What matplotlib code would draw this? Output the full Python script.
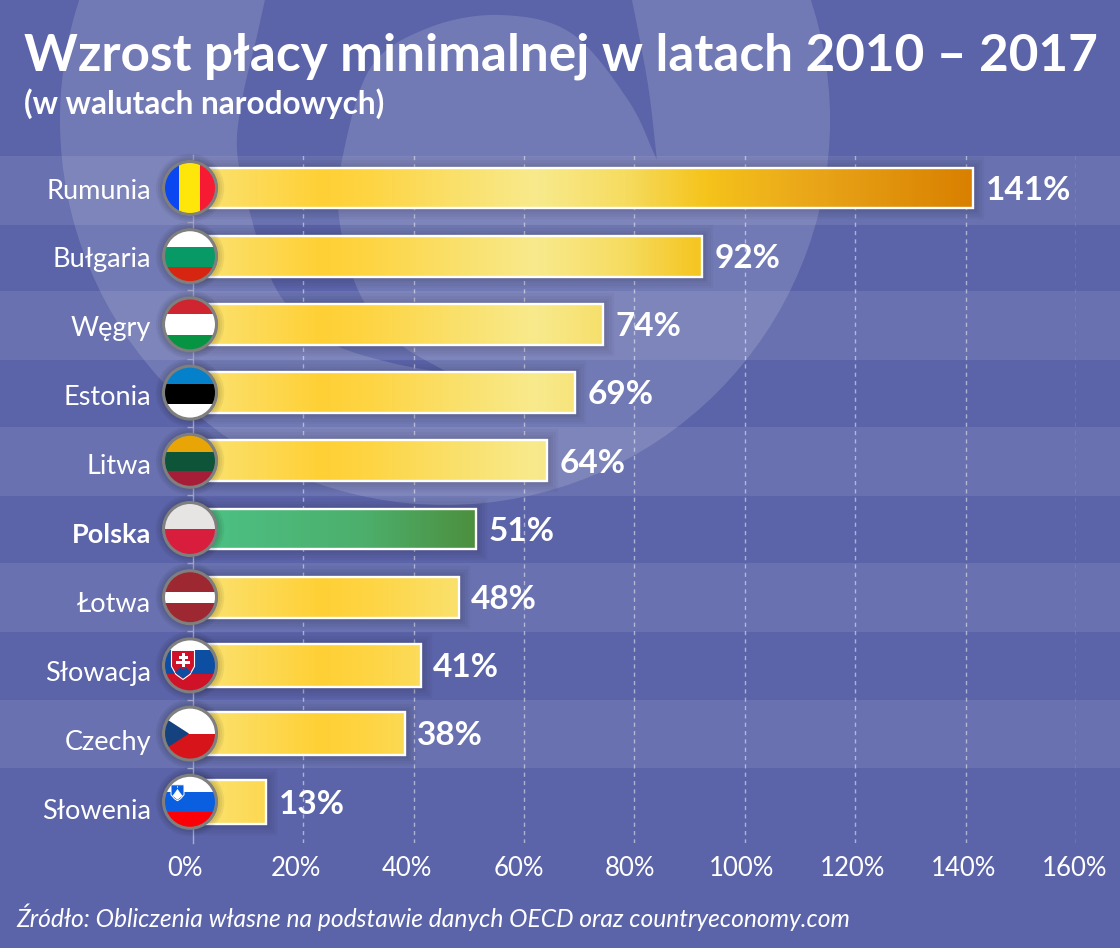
import numpy as np
import matplotlib
matplotlib.use('Agg')
import matplotlib.pyplot as plt
from matplotlib.colors import LinearSegmentedColormap
from matplotlib.patches import Circle, Polygon, Rectangle
from matplotlib.transforms import ScaledTranslation
from matplotlib import font_manager as fm
import matplotlib.patheffects as pe

plt.rcParams['font.family'] = ['Lato', 'Noto Sans', 'DejaVu Sans']

countries = ['Rumunia', 'Bułgaria', 'Węgry', 'Estonia', 'Litwa', 'Polska', 'Łotwa', 'Słowacja', 'Czechy', 'Słowenia']
growth = [141.4, 92.3, 74.4, 69.2, 64.2, 51.3, 48.2, 41.3, 38.4, 13.3]
xticks = [0, 20, 40, 60, 80, 100, 120, 140, 160]
title = 'Wzrost płacy minimalnej w latach 2010 – 2017'
subtitle = '(w walutach narodowych)'
source = 'Źródło: Obliczenia własne na podstawie danych OECD oraz countryeconomy.com'

W, H = 1120, 948
BG = '#5b64a9'
fig = plt.figure(figsize=(W / 100, H / 100), dpi=100, facecolor=BG)

def px_axes(z):
    a = fig.add_axes([0, 0, 1, 1], zorder=z)
    a.set_xlim(0, W)
    a.set_ylim(H, 0)
    a.axis('off')
    return a

def smooth(pts, n=14):
    """Catmull-Rom curve through decorative outline points."""
    p = np.array(pts, float)
    p = np.vstack([2 * p[0] - p[1], p, 2 * p[-1] - p[-2]])
    out = []
    for i in range(1, len(p) - 2):
        for t in np.linspace(0, 1, n, endpoint=False):
            out.append(0.5 * (2 * p[i] + (p[i + 1] - p[i - 1]) * t
                              + (2 * p[i - 1] - 5 * p[i] + 4 * p[i + 1] - p[i + 2]) * t ** 2
                              + (3 * p[i] - p[i - 1] - 3 * p[i + 1] + p[i + 2]) * t ** 3))
    out.append(p[-2])
    return np.array(out)

# background
bg = px_axes(0)
bg.set_facecolor(BG)
bg.add_patch(Circle((445, 120), 385, fc='white', alpha=0.146, lw=0))
arc_outer = [(266, -5), (256, 40), (243, 95), (237, 150), (250, 213), (273, 283), (305, 325), (339, 347), (392, 363), (450, 374)]
arc_inner = [(450, 374), (395, 340), (358, 290), (339, 217), (343, 155), (371, 67), (428, 28), (500, 15), (571, 33), (628, 100), (657, 160)]
arc_right = [(657, 160), (648, 85), (632, 0), (630, -5)]
crescent = np.vstack([smooth(arc_outer), smooth(arc_inner), smooth(arc_right)])
bg.add_patch(Polygon(crescent, closed=True, fc=BG, lw=0))
stripe_edges = [(156, 224.5), (291, 359.5), (427, 495.5), (563, 631.5), (699.5, 768)]
for top, bot in stripe_edges:
    bg.add_patch(Rectangle((0, top), W, bot - top, fc='white', alpha=0.09, lw=0))

# main axes
X0, X160, Y0, YB = 192.7, 1076.0, 155.0, 843.0
ROW0, PITCH = 188.0, 68.2
ax = fig.add_axes([X0 / W, 1 - YB / H, (X160 - X0) / W, (YB - Y0) / H], zorder=1)
ax.patch.set_alpha(0)
ys = np.arange(len(countries))
bar_h = [0.6] * 7 + [0.64] * 3

yellow = LinearSegmentedColormap.from_list('y', [
    (0.00, '#fbe374'), (23 / 141, '#ffd035'), (32 / 141, '#fed544'), (47 / 141, '#fae06a'), (62 / 141, '#f8ea8d'),
    (78 / 141, '#f6dc60'), (93 / 141, '#f5c31a'), (108 / 141, '#ecac1a'), (121 / 141, '#e49a12'), (1.0, '#d98000')])
green = LinearSegmentedColormap.from_list('g', [(0, '#4cc286'), (0.6, '#4daf6c'), (1, '#4c8f3e')])

shadow = ax.barh(ys, growth, height=bar_h, color='black', alpha=0.02, lw=0, zorder=2)
for p in shadow:
    p.set_path_effects([pe.Stroke(linewidth=w, foreground='black', alpha=0.03) for w in (16, 12, 8, 5, 3)])

for i, (name, v) in enumerate(zip(countries, growth)):
    h = bar_h[i]
    if name == 'Polska':
        data, cm, top = np.linspace(0, v, 256), green, v
    else:
        data, cm, top = np.linspace(0, v, 256), yellow, 141.4
    ax.imshow(data[None, :], extent=(0, v, i + h / 2, i - h / 2), cmap=cm, vmin=0, vmax=top,
              aspect='auto', zorder=3, interpolation='bilinear')
    ax.annotate(f'{v:.0f}%', (v, i), xytext=(9, -1.7), textcoords='offset points', ha='left', va='center',
                color='white', fontsize=24, fontweight='bold', zorder=5)
ax.barh(ys, growth, height=bar_h, facecolor='none', edgecolor='white', lw=1.7, zorder=4)

ax.set_xlim(0, 160)
ax.set_ylim((YB - ROW0) / PITCH, (Y0 - ROW0) / PITCH)
ax.grid(False)
for v in xticks[1:]:
    ax.axvline(v, color='white', alpha=0.5, lw=1.0, ls=(0, (3, 3)), zorder=1)
for s in ('top', 'right', 'bottom'):
    ax.spines[s].set_visible(False)
ax.spines['left'].set_color('#a9add0')
ax.spines['left'].set_linewidth(1.0)

ax.set_yticks(ys, countries)
ax.set_yticks(ys[:-1] + 0.5, minor=True)
ax.tick_params(axis='y', which='major', length=0, pad=30, labelsize=19.5, labelcolor='white')
ax.tick_params(axis='y', which='minor', length=4.5, width=1, color='#a9add0')
ax.set_xticks(xticks, [f'{v}%' for v in xticks])
ax.tick_params(axis='x', length=0, pad=9, labelsize=18.5, labelcolor='white')
for t, lab in zip(xticks, ax.get_xticklabels()):
    dx = (-8 + 7 * t / 160) / 100
    lab.set_transform(lab.get_transform() + ScaledTranslation(dx, 0, fig.dpi_scale_trans))
for i, (lab, name) in enumerate(zip(ax.get_yticklabels(), countries)):
    lab.set_va('center_baseline')
    lab.set_transform(lab.get_transform() + ScaledTranslation(0, -(0.7 * i + 0.5) / 100, fig.dpi_scale_trans))
    if name == 'Polska':
        lab.set_fontweight('bold')

# flags (decorative stripes, pixel offsets from circle centre)
fl = px_axes(2)
fl.patch.set_alpha(0)
R = 26.5
horizontal = {
    'Bułgaria': [('#ffffff', -30, -9), ('#079a67', -9, 11), ('#d62612', 11, 30)],
    'Węgry': [('#cf2531', -30, -10), ('#ffffff', -10, 11), ('#069442', 11, 30)],
    'Estonia': [('#0581cb', -30, -9), ('#000000', -9, 11), ('#ffffff', 11, 30)],
    'Litwa': [('#e9a506', -30, -9), ('#0e5439', -9, 10), ('#a51d37', 10, 30)],
    'Polska': [('#e6e5e3', -30, 0), ('#d81e3c', 0, 30)],
    'Łotwa': [('#9e2831', -30, -5), ('#ffffff', -5, 6), ('#9e2831', 6, 30)],
    'Słowacja': [('#ffffff', -30, -15), ('#0b4ea2', -15, 9), ('#cf1228', 9, 30)],
    'Słowenia': [('#ffffff', -30, -10), ('#0a5fe0', -10, 10), ('#fb0007', 10, 30)],
    'Czechy': [('#ffffff', -30, 0), ('#d7141a', 0, 30)],
}
for i, name in enumerate(countries):
    cy = ROW0 + PITCH * i
    cx = 190.0
    clip = Circle((cx, cy), R, transform=fl.transData)
    parts = []
    if name == 'Rumunia':
        for c, a, b in [('#0a47f0', -30, -11), ('#ffe60a', -11, 10), ('#f61a33', 10, 30)]:
            parts.append(Rectangle((cx + a, cy - 30), b - a, 60, fc=c, lw=0))
    else:
        for c, a, b in horizontal[name]:
            parts.append(Rectangle((cx - 30, cy + a), 60, b - a, fc=c, lw=0))
    if name == 'Czechy':
        parts.append(Polygon([(cx - 35, cy - 22), (cx - 1, cy), (cx - 35, cy + 22)], fc='#13427e', lw=0))
    if name == 'Słowacja':
        sx, sy = cx - 7, cy - 15
        shield = [(sx - 11.5, sy), (sx + 11.5, sy), (sx + 11.5, sy + 16), (sx + 7, sy + 24), (sx, sy + 29), (sx - 7, sy + 24), (sx - 11.5, sy + 16)]
        parts.append(Polygon(shield, fc='#cf1228', ec='white', lw=0.8))
        parts.append(Polygon([(sx - 8, sy + 22), (sx - 3, sy + 17), (sx, sy + 19), (sx + 3, sy + 17), (sx + 8, sy + 22), (sx, sy + 28)], fc='#0b4ea2', lw=0))
        parts.append(Rectangle((sx - 1.5, sy + 3), 3, 14, fc='white', lw=0))
        parts.append(Rectangle((sx - 4.5, sy + 6), 9, 2.4, fc='white', lw=0))
        parts.append(Rectangle((sx - 7, sy + 10.5), 14, 2.6, fc='white', lw=0))
    if name == 'Słowenia':
        sx, sy = cx - 12.5, cy - 17
        shield = [(sx - 6.5, sy), (sx + 6.5, sy), (sx + 6.5, sy + 10), (sx + 3, sy + 14), (sx, sy + 16), (sx - 3, sy + 14), (sx - 6.5, sy + 10)]
        parts.append(Polygon(shield, fc='#0a5fe0', ec='white', lw=0.7))
        parts.append(Polygon([(sx - 5, sy + 11), (sx - 2, sy + 7), (sx, sy + 4), (sx + 2, sy + 7), (sx + 5, sy + 11), (sx, sy + 15)], fc='white', lw=0))
        parts.append(Rectangle((sx - 0.8, sy + 1.5), 1.6, 1.6, fc='#f2d21a', lw=0))
    halo = Circle((cx, cy), R + 1.5, fc='black', alpha=0.03, lw=0)
    halo.set_path_effects([pe.Stroke(linewidth=w, foreground='black', alpha=0.05) for w in (9, 6, 3)])
    fl.add_patch(halo)
    for p in parts:
        fl.add_patch(p)
        p.set_clip_path(clip)
    fl.add_patch(Circle((cx, cy), R, fc='none', ec='#7f7f7f', lw=2.2))

def fit(txt, target_px):
    r = fig.canvas.get_renderer()
    w = txt.get_window_extent(r).width
    txt.set_fontsize(txt.get_fontsize() * target_px / w)

narrow = 'Liberation Sans Narrow'
has_narrow = any(f.name == narrow for f in fm.fontManager.ttflist)
t1 = fig.text(24 / W, 1 - 70 / H, title, color='white', fontsize=41, fontweight='bold', ha='left', va='baseline',
              family=[narrow, 'Lato'] if has_narrow else ['Lato'])
t2 = fig.text(24 / W, 1 - 114 / H, subtitle, color='white', fontsize=24, fontweight='bold', ha='left', va='baseline')
t3 = fig.text(16 / W, 1 - 927 / H, source, color='white', fontsize=19, style='italic', ha='left', va='baseline')
fit(t1, 1074)
fit(t2, 362)
fit(t3, 837)

fig.savefig('out.png', dpi=100, facecolor=BG)
